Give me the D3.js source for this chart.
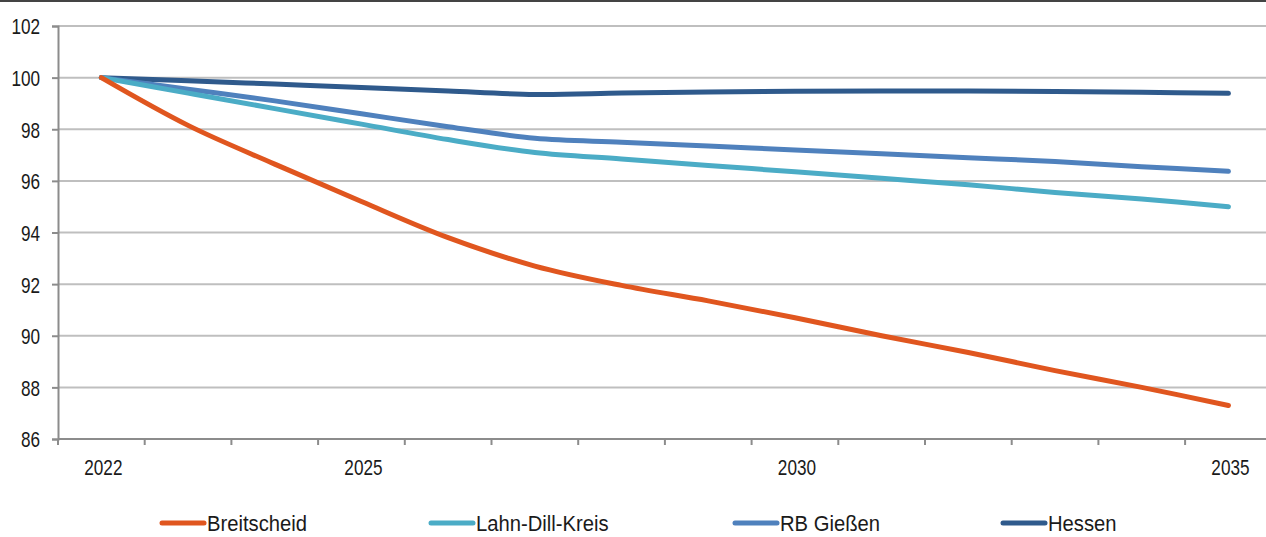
<!DOCTYPE html>
<html lang="de">
<head>
    <meta charset="UTF-8">
    <title>Bevölkerungsentwicklung</title>
    <style>
        body{
            margin: 0;
            background: #fff;
        }
        #container{
            width: 1266px;
            height: 537px;
            border-top: 2px solid #444;
            box-sizing: border-box;
        }
        .axis text{
            font-family: "Liberation Sans", Arial, sans-serif;
            font-size: 22px;
            fill: #1a1a1a;
        }
        .legend text{
            font-family: "Liberation Sans", Arial, sans-serif;
            font-size: 22px;
            fill: #1a1a1a;
        }
        .grid line{
            stroke: #bfbfbf;
            stroke-width: 2px;
        }
        .series{
            fill: none;
            stroke-width: 5px;
            stroke-linecap: round;
            stroke-linejoin: round;
        }
    </style>
    <script src="https://cdn.jsdelivr.net/npm/d3@7"></script>
</head>
<body>
<div id="container"></div>
<script type="text/javascript">
    // Jahre (Kategorien) und Index 2022 = 100
    const years = [2022,2023,2024,2025,2026,2027,2028,2029,2030,2031,2032,2033,2034,2035];
    const yearLabels = {2022:"2022", 2025:"2025", 2030:"2030", 2035:"2035"};
    const yTicks = [86,88,90,92,94,96,98,100,102];

    const breitscheid = [100,98.15,96.65,95.2,93.8,92.7,91.95,91.35,90.7,90.0,89.35,88.65,88.0,87.3];
    const lahnDill    = [100,99.4,98.8,98.2,97.6,97.1,96.85,96.6,96.35,96.1,95.85,95.55,95.3,95.0];
    const rbGiessen   = [100,99.55,99.1,98.6,98.1,97.65,97.5,97.35,97.2,97.05,96.9,96.75,96.55,96.37];
    const hessen      = [100,99.88,99.75,99.62,99.48,99.35,99.4,99.44,99.47,99.48,99.48,99.46,99.43,99.39];

    const seriesNames  = ["Breitscheid","Lahn-Dill-Kreis","RB Gießen","Hessen"];
    const seriesValues = [breitscheid, lahnDill, rbGiessen, hessen];
    const seriesColors = ["#e0561f","#4bacc6","#4f81bd","#2f5a8c"];

    const width = 1266, height = 535;
    const margin = {top:24, left:58, bottom:98};
    const band = 86.7;
    const squeeze = 0.78;   // schmale Schrift wie im Original

    const svg = d3.select("#container")
        .append("svg")
        .attr("width", width)
        .attr("height", height)
        .style("display","block");

    const xScale = d3.scaleBand()
        .domain(years)
        .range([margin.left, margin.left + band*years.length])
        .padding(0);

    const yScale = d3.scaleLinear()
        .domain([86,102])
        .range([height-margin.bottom, margin.top]);

    // horizontale Gitterlinien
    svg.append("g").attr("class","grid")
        .selectAll("line")
        .data(yTicks.filter(d => d > 86))
        .enter()
        .append("line")
        .attr("x1", margin.left)
        .attr("x2", width)
        .attr("y1", d => yScale(d))
        .attr("y2", d => yScale(d));

    const yAxis = d3.axisLeft(yScale).tickValues(yTicks).tickSize(6).tickPadding(12);
    const gy = svg.append("g").attr("class","axis")
        .attr("transform", `translate(${margin.left},0)`)
        .call(yAxis);
    gy.select(".domain").attr("stroke","#8c8c8c").attr("stroke-width",2);
    gy.selectAll(".tick line").attr("stroke","#8c8c8c").attr("stroke-width",2);
    gy.selectAll(".tick text")
        .attr("x", -18/squeeze)
        .attr("dy", "0.36em")
        .attr("transform", `scale(${squeeze},1)`);

    // x-Achse: Striche an den Kategoriegrenzen
    const gx = svg.append("g").attr("class","axis")
        .attr("transform", `translate(0,${yScale(86)})`);
    gx.append("line")
        .attr("x1", margin.left).attr("x2", width)
        .attr("stroke","#8c8c8c").attr("stroke-width",2);
    gx.selectAll(".xtick")
        .data(years)
        .enter()
        .append("line")
        .attr("class","xtick")
        .attr("x1", d => xScale(d)).attr("x2", d => xScale(d))
        .attr("y1", 0).attr("y2", 6)
        .attr("stroke","#8c8c8c").attr("stroke-width",2);
    gx.selectAll(".xlabel")
        .data(years.filter(d => yearLabels[d]))
        .enter()
        .append("text")
        .attr("class","xlabel")
        .attr("transform", d => `translate(${xScale(d) + xScale.bandwidth()/2 + 2},36) scale(${squeeze},1)`)
        .attr("text-anchor","middle")
        .text(d => yearLabels[d]);

    const lineGen = d3.line()
        .x((d,i) => xScale(years[i]) + xScale.bandwidth()/2)
        .y(d => yScale(d))
        .curve(d3.curveCardinal.tension(0));

    svg.append("g")
        .selectAll("path")
        .data(seriesValues.slice().reverse())
        .enter()
        .append("path")
        .attr("class","series")
        .attr("stroke", (d,i) => seriesColors[seriesColors.length-1-i])
        .attr("d", d => lineGen(d));

    // Legende
    const legendX = [162, 431, 735, 1003];
    const legend = svg.append("g").attr("class","legend")
        .selectAll("g")
        .data(seriesNames)
        .enter()
        .append("g")
        .attr("transform", (d,i) => `translate(${legendX[i]},521)`);
    legend.append("line")
        .attr("x1", 0).attr("x2", 42)
        .attr("stroke", (d,i) => seriesColors[i])
        .attr("stroke-width", 5)
        .attr("stroke-linecap","round");
    legend.append("text")
        .attr("transform", "translate(45,8) scale(0.92,1)")
        .text(d => d);
</script>
</body>
</html>
